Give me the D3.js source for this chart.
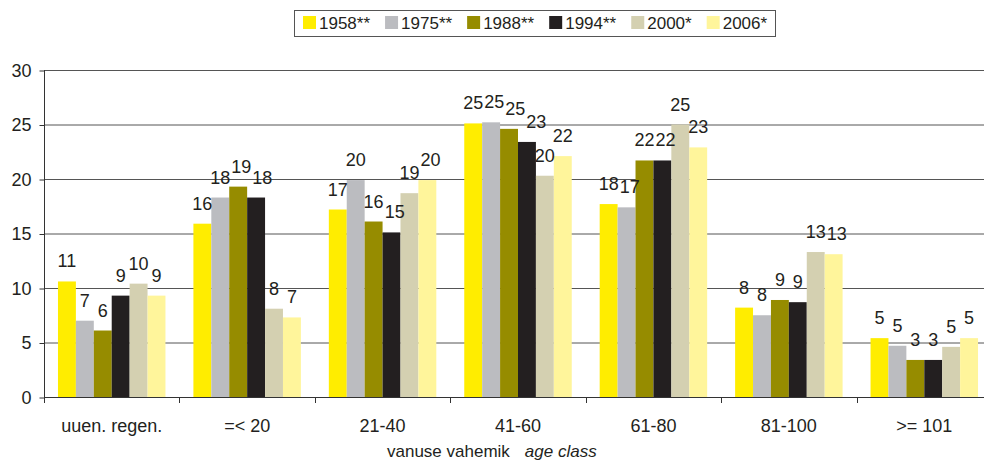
<!DOCTYPE html>
<html><head><meta charset="utf-8">
<script src="https://cdn.jsdelivr.net/npm/d3@7"></script>
<style>
html,body{margin:0;padding:0;background:#fff;overflow:hidden;}
svg{display:block;font-family:"Liberation Sans",Arial,sans-serif;}
</style></head>
<body>
<svg id="chart" width="984" height="461"></svg>
<script>
const categories = ["uuen. regen.", "=< 20", "21-40", "41-60", "61-80", "81-100", ">= 101"];
const seriesNames = ["1958**", "1975**", "1988**", "1994**", "2000*", "2006*"];
const seriesColors = ["#FFED00", "#BBBCC0", "#968C00", "#231F20", "#D4D0B1", "#FFF59B"];
const s1958 = [10.6, 15.9, 17.2, 25.1, 17.7, 8.2, 5.4];
const s1975 = [7.0, 18.3, 19.9, 25.2, 17.4, 7.5, 4.7];
const s1988 = [6.1, 19.3, 16.1, 24.6, 21.7, 8.9, 3.4];
const s1994 = [9.3, 18.3, 15.1, 23.4, 21.7, 8.7, 3.4];
const s2000 = [10.4, 8.1, 18.7, 20.3, 25.0, 13.3, 4.6];
const s2006 = [9.3, 7.3, 19.9, 22.1, 22.9, 13.1, 5.4];
const yTicks = [0, 5, 10, 15, 20, 25, 30];
const xTitle = "vanuse vahemik";
const xTitleEn = "age class";

const seriesValues = [s1958, s1975, s1988, s1994, s2000, s2006];
const series = seriesNames.map((n, i) => ({name: n, color: seriesColors[i], values: seriesValues[i]}));

const svg = d3.select("#chart");
const textColor = "#231F20";
const fs = 18;
const fsLeg = 17;

const x0 = d3.scaleBand().domain(categories).range([44, 992]).paddingInner(0).paddingOuter(0);
const x1 = d3.scaleBand().domain(seriesNames).range([0, x0.bandwidth()]).paddingInner(0).paddingOuter(0.78);
const y = d3.scaleLinear().domain([0, 30]).range([397, 70]);

// gridlines
svg.append("g").selectAll("line").data(yTicks.filter(t => t > 0)).join("line")
  .attr("x1", 44).attr("x2", 992)
  .attr("y1", d => y(d) + 0.5).attr("y2", d => y(d) + 0.5)
  .attr("stroke", "#555").attr("stroke-width", 1);

// y axis
const yAxis = d3.axisLeft(y).tickValues(yTicks).tickSize(5).tickPadding(8).tickFormat(d3.format("d"));
const gy = svg.append("g").attr("transform", "translate(44.5,0.5)").call(yAxis);
gy.select(".domain").remove();
gy.selectAll(".tick line").attr("stroke", "#333");
gy.selectAll(".tick text").attr("font-size", fs).attr("fill", textColor).attr("font-family", "Liberation Sans, Arial, sans-serif");
svg.append("line").attr("x1", 44.5).attr("x2", 44.5).attr("y1", 70).attr("y2", 403).attr("stroke", "#333");

// bars
const groups = svg.append("g").selectAll("g").data(series).join("g").attr("fill", d => d.color);
groups.selectAll("rect").data(d => d.values.map((v, i) => ({v, cat: categories[i], name: d.name}))).join("rect")
  .attr("x", d => x0(d.cat) + x1(d.name))
  .attr("width", x1.bandwidth())
  .attr("y", d => y(d.v))
  .attr("height", d => y(0) - y(d.v));

// value labels with simple collision nudging
const fmt = v => String(Math.round(v));
const labelG = svg.append("g");
categories.forEach((cat, ci) => {
  const placed = [];
  series.forEach(s => {
    const v = s.values[ci];
    const cx = x0(cat) + x1(s.name) + x1.bandwidth() / 2;
    const by = y(v) - 14;
    const t = labelG.append("text").attr("x", cx).attr("y", by)
      .attr("text-anchor", "middle").attr("font-size", fs).attr("fill", textColor).text(fmt(v));
    const w = t.node().getComputedTextLength();
    let box = {x1: cx - w / 2, x2: cx + w / 2, top: by - 15, bottom: by + 4};
    let moved = true, guard = 0;
    while (moved && guard++ < 10) {
      moved = false;
      for (const p of placed) {
        if (box.top < p.bottom && box.bottom > p.top && box.x1 < p.x2 + 1 && box.x2 > p.x1) {
          const dx = p.x2 + 1 - box.x1;
          box.x1 += dx; box.x2 += dx;
          moved = true;
        }
      }
    }
    t.attr("x", (box.x1 + box.x2) / 2);
    placed.push(box);
  });
});

// x axis
const xAxis = d3.axisBottom(x0).tickSize(0).tickPadding(0);
svg.append("line").attr("x1", 44).attr("x2", 992).attr("y1", 397.5).attr("y2", 397.5).attr("stroke", "#333");
svg.append("g").selectAll("line").data(categories.slice(1)).join("line")
  .attr("x1", d => Math.round(x0(d)) + 0.5).attr("x2", d => Math.round(x0(d)) + 0.5)
  .attr("y1", 397).attr("y2", 403).attr("stroke", "#333");
const gx = svg.append("g").attr("transform", "translate(0,432)").call(xAxis);
gx.select(".domain").remove();
gx.selectAll(".tick text").attr("font-size", fs).attr("fill", textColor).attr("dy", 0)
  .attr("font-family", "Liberation Sans, Arial, sans-serif");

// x title
const tt = svg.append("text").attr("x", 387).attr("y", 457).attr("font-size", fsLeg).attr("fill", textColor);
tt.append("tspan").text(xTitle);
tt.append("tspan").attr("dx", 15).attr("font-style", "italic").text(xTitleEn);

// legend
const leg = svg.append("g");
leg.append("rect").attr("x", 294.5).attr("y", 10.5).attr("width", 481).attr("height", 26)
  .attr("fill", "#fff").attr("stroke", "#555").attr("stroke-width", 1);
let lx = 303;
series.forEach(s => {
  leg.append("rect").attr("x", lx).attr("y", 16).attr("width", 13).attr("height", 13).attr("fill", s.color);
  const t = leg.append("text").attr("x", lx + 16).attr("y", 29).attr("font-size", fsLeg).attr("fill", textColor).text(s.name);
  lx += 16 + t.node().getComputedTextLength() + 15;
});
</script>
</body></html>
